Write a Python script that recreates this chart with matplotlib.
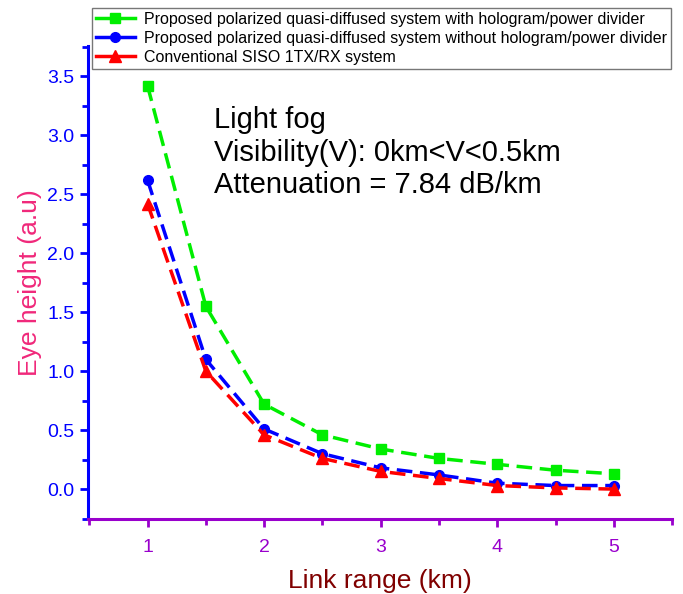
import numpy as np
import matplotlib.pyplot as plt
from matplotlib.legend_handler import HandlerLine2D

plt.rcParams['font.family'] = ['Liberation Sans', 'DejaVu Sans']

link_range = [1, 1.5, 2, 2.5, 3, 3.5, 4, 4.5, 5]
with_holo = [3.42, 1.55, 0.72, 0.46, 0.34, 0.26, 0.21, 0.16, 0.13]
without_holo = [2.62, 1.10, 0.51, 0.30, 0.18, 0.12, 0.05, 0.03, 0.03]
siso = [2.42, 1.00, 0.46, 0.26, 0.15, 0.09, 0.03, 0.01, 0.00]

labels = ["Proposed polarized quasi-diffused system with hologram/power divider",
          "Proposed polarized quasi-diffused system without hologram/power divider",
          "Conventional SISO 1TX/RX system"]


class EndMarkerHandler(HandlerLine2D):
    # Origin-style legend: marker sits at the right end of the line
    def get_xdata(self, legend, xdescent, ydescent, width, height, fontsize):
        xdata = np.array([-xdescent, -xdescent + width])
        return xdata, np.array([-xdescent + width * 0.85])


fig = plt.figure(figsize=(6.83, 5.94), dpi=100)
ax = fig.add_axes([0.129, 0.126, 0.855, 0.797])

ax.plot(link_range, with_holo, color="#00ee00", ls=(0, (4.5, 2.2)), lw=2.5,
        marker="s", ms=7, label=labels[0])
ax.plot(link_range, without_holo, color="#0000ff", ls=(0, (4.5, 2.2)), lw=2.5,
        marker="o", ms=7, label=labels[1])
ax.plot(link_range, siso, color="#ff0000", ls=(0, (4.5, 2.2)), lw=2.5,
        marker="^", ms=8, label=labels[2])

ax.set_xlim(0.49, 5.5)
ax.set_ylim(-0.255, 3.76)
ax.set_xticks([1, 2, 3, 4, 5])
ax.set_xticks(np.arange(0.5, 5.6, 0.5), minor=True)
ax.set_yticks(np.arange(0, 3.6, 0.5))
ax.set_yticks(np.arange(-0.25, 3.76, 0.25), minor=True)
ax.yaxis.set_major_formatter(plt.FormatStrFormatter("%.1f"))

for s in ["top", "right"]:
    ax.spines[s].set_visible(False)
ax.spines["left"].set_color("#0000ff")
ax.spines["left"].set_linewidth(2.2)
ax.spines["bottom"].set_color("#9900cc")
ax.spines["bottom"].set_linewidth(2.2)

ax.tick_params(axis="y", which="both", colors="#0000ff", width=2, labelsize=14, pad=4)
ax.tick_params(axis="y", which="major", length=6)
ax.tick_params(axis="y", which="minor", length=4)
ax.tick_params(axis="x", which="both", colors="#9900cc", width=2, labelsize=14, pad=8)
ax.tick_params(axis="x", which="major", length=6)
ax.tick_params(axis="x", which="minor", length=4)

ax.set_ylabel("Eye height (a.u)", color="#f0287a", fontsize=19, labelpad=4)
ax.set_xlabel("Link range (km)", color="#800000", fontsize=19, labelpad=10)

ax.text(0.216, 0.872, "Light fog\nVisibility(V): 0km<V<0.5km\nAttenuation = 7.84 dB/km",
        transform=ax.transAxes, fontsize=21, va="top", linespacing=1.2)

leg = ax.legend(loc="upper left", bbox_to_anchor=(0.007, 1.08), fontsize=11.5,
                frameon=True, fancybox=False, borderpad=0.25, labelspacing=0.24,
                handlelength=2.4, handletextpad=0.6, borderaxespad=0,
                handler_map={plt.Line2D: EndMarkerHandler()})
leg.get_frame().set_edgecolor("#555555")
leg.get_frame().set_linewidth(1)
for h in leg.legend_handles:
    h.set_linestyle("-")

plt.savefig("out.png")
